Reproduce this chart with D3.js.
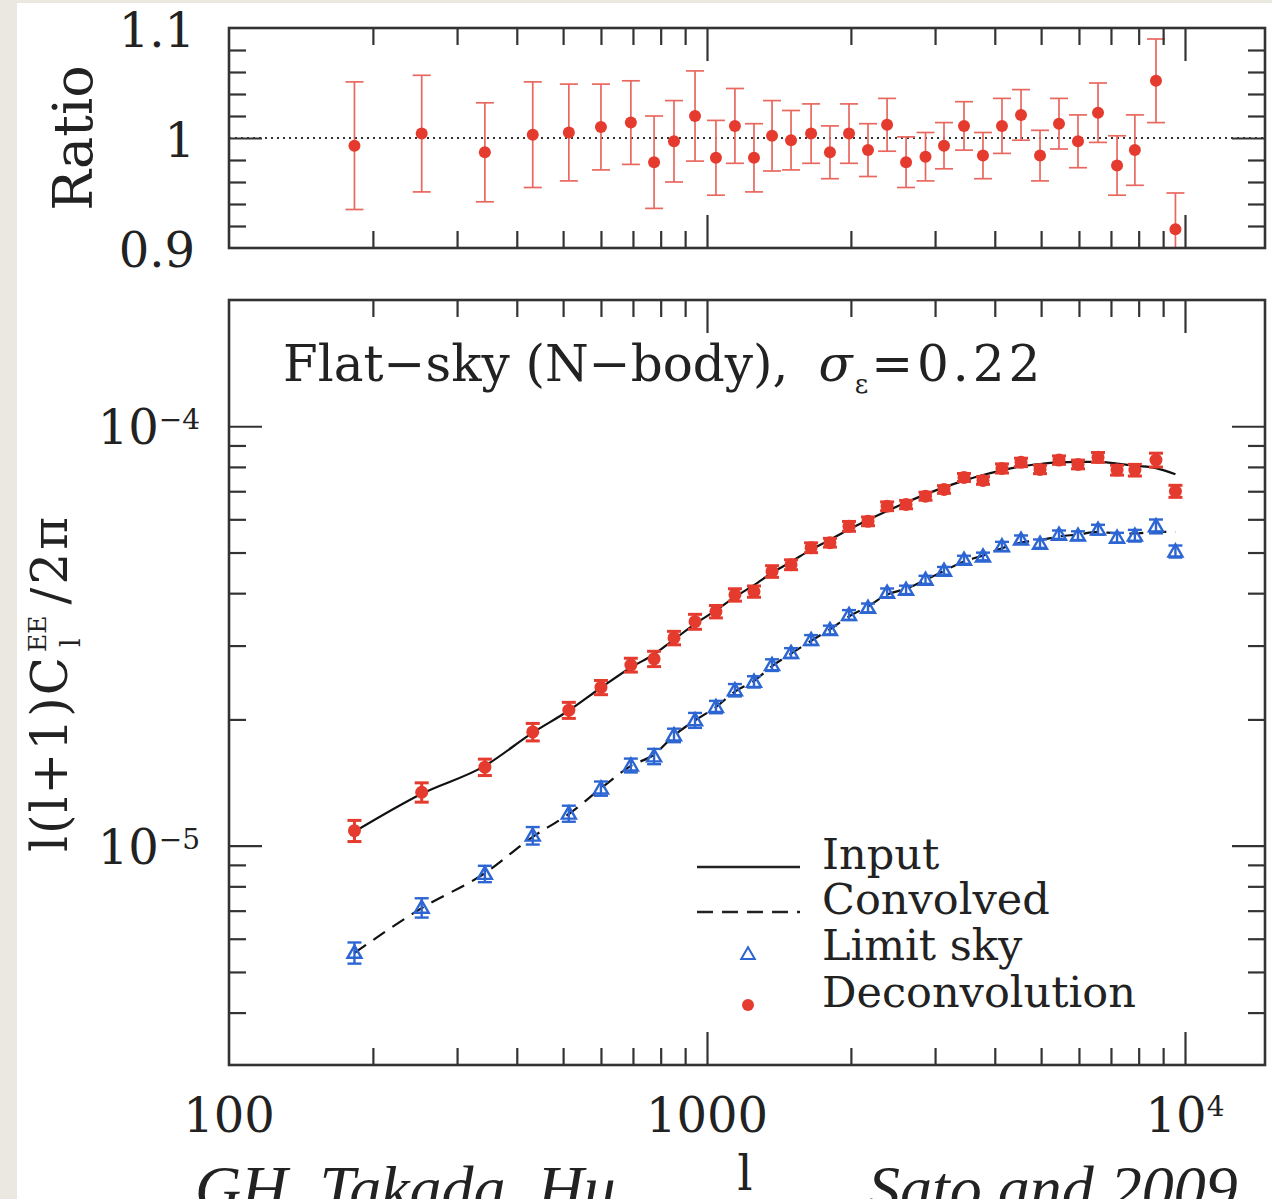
<!DOCTYPE html>
<html>
<head>
<meta charset="utf-8">
<script src="https://cdn.jsdelivr.net/npm/d3@7"></script>
<style>
  body { margin: 0; background: #fff; }
  svg { display: block; }
  text { font-family: "DejaVu Serif", serif; fill: #222; }
</style>
</head>
<body>
<svg id="chart"></svg>
<script>
// multipole bins (l)
const ell = [183, 253, 343, 432, 514, 600, 693, 775, 853, 944, 1044, 1144, 1254, 1368, 1499,
  1651, 1808, 1982, 2172, 2381, 2609, 2865, 3132, 3449, 3779, 4141, 4539, 4974, 5450, 5972,
  6577, 7208, 7855, 8695, 9550];

// deconvolved / input ratio and its error
const ratio = [0.993, 1.004, 0.987, 1.003, 1.005, 1.010, 1.014, 0.978, 0.997, 1.020, 0.982, 1.011,
  0.982, 1.002, 0.998, 1.004, 0.987, 1.004, 0.989, 1.012, 0.978, 0.983, 0.993, 1.011, 0.984, 1.011,
  1.021, 0.984, 1.013, 0.997, 1.023, 0.975, 0.989, 1.052, 0.917];
const ratioErr = [0.058, 0.053, 0.045, 0.048, 0.044, 0.039, 0.038, 0.042, 0.037, 0.041, 0.034, 0.034,
  0.031, 0.032, 0.027, 0.027, 0.024, 0.027, 0.024, 0.024, 0.023, 0.022, 0.021, 0.022, 0.021, 0.025,
  0.023, 0.023, 0.023, 0.024, 0.027, 0.027, 0.032, 0.038, 0.033];

// l(l+1)C_l^EE/2pi
const deconv = [1.086e-5, 1.341e-5, 1.539e-5, 1.867e-5, 2.104e-5, 2.384e-5, 2.696e-5, 2.79e-5,
  3.128e-5, 3.421e-5, 3.615e-5, 3.963e-5, 4.036e-5, 4.507e-5, 4.677e-5, 5.135e-5, 5.278e-5,
  5.774e-5, 5.935e-5, 6.447e-5, 6.508e-5, 6.813e-5, 7.069e-5, 7.551e-5, 7.427e-5, 7.934e-5,
  8.202e-5, 7.89e-5, 8.306e-5, 8.11e-5, 8.43e-5, 7.86e-5, 7.86e-5, 8.31e-5, 7.0e-5];
const limitSky = [5.556e-6, 7.116e-6, 8.57e-6, 1.057e-5, 1.193e-5, 1.369e-5, 1.554e-5, 1.633e-5,
  1.833e-5, 1.991e-5, 2.142e-5, 2.349e-5, 2.459e-5, 2.696e-5, 2.88e-5, 3.094e-5, 3.268e-5,
  3.549e-5, 3.69e-5, 4.008e-5, 4.074e-5, 4.305e-5, 4.524e-5, 4.806e-5, 4.894e-5, 5.172e-5,
  5.367e-5, 5.25e-5, 5.516e-5, 5.486e-5, 5.67e-5, 5.425e-5, 5.486e-5, 5.774e-5, 5.03e-5];
const inputCl = [1.08e-5, 1.33e-5, 1.55e-5, 1.86e-5, 2.10e-5, 2.38e-5, 2.66e-5, 2.86e-5, 3.10e-5,
  3.38e-5, 3.64e-5, 3.92e-5, 4.18e-5, 4.47e-5, 4.75e-5, 5.08e-5, 5.36e-5, 5.68e-5, 5.98e-5,
  6.28e-5, 6.58e-5, 6.88e-5, 7.15e-5, 7.42e-5, 7.65e-5, 7.85e-5, 8.02e-5, 8.13e-5, 8.20e-5,
  8.22e-5, 8.22e-5, 8.15e-5, 8.05e-5, 7.95e-5, 7.68e-5];
const convolvedCl = [5.55e-6, 7.1e-6, 8.6e-6, 1.05e-5, 1.19e-5, 1.37e-5, 1.55e-5, 1.65e-5, 1.83e-5,
  1.99e-5, 2.14e-5, 2.33e-5, 2.47e-5, 2.68e-5, 2.87e-5, 3.08e-5, 3.28e-5, 3.52e-5, 3.72e-5,
  3.97e-5, 4.10e-5, 4.30e-5, 4.52e-5, 4.76e-5, 4.92e-5, 5.12e-5, 5.28e-5, 5.35e-5, 5.46e-5,
  5.52e-5, 5.6e-5, 5.55e-5, 5.55e-5, 5.6e-5, 5.6e-5];

// tick labels
const xTickLabels = [{v: 100, t: "100"}, {v: 1000, t: "1000"}, {v: 1e4, t: "10", sup: "4"}];
const ratioTickLabels = [{v: 0.9, t: "0.9"}, {v: 1.0, t: "1"}, {v: 1.1, t: "1.1"}];
const clTickLabels = [{v: 1e-5, t: "10", sup: "\u22125"}, {v: 1e-4, t: "10", sup: "\u22124"}];
const legendItems = ["Input", "Convolved", "Limit sky", "Deconvolution"];

const W = 1272, H = 1199;
const red = "#e53b2f", redBar = "#e8685f", blue = "#2d66d3";

const svg = d3.select("#chart").attr("width", W).attr("height", H);

// slide background
svg.append("rect").attr("width", W).attr("height", H).attr("fill", "#fff");
svg.append("rect").attr("width", 17).attr("height", H).attr("fill", "#ebe8e2");
svg.append("rect").attr("width", W).attr("height", 3).attr("fill", "#ebe8e2");

const left = 229, right = 1265;
const top1 = 28, bot1 = 248, top2 = 300, bot2 = 1065;

const x = d3.scaleLog().domain([100, 1e4]).range([left, 1185]);
const yR = d3.scaleLinear().domain([0.9, 1.1]).range([bot1, top1]);
const yC = d3.scaleLog().domain([3e-6, 2e-4]).range([bot2, top2]);

const pts = ell.map((l, i) => ({l, r: ratio[i], e: ratioErr[i], d: deconv[i], s: limitSky[i],
  inp: inputCl[i], conv: convolvedCl[i]}));

// inward ticks on all four sides of a panel
function ticks(y, yMinor, yMajor, top, bot) {
  const xt = x.ticks().filter(v => v > 100);
  const isMaj = v => Math.abs(Math.log10(v) - Math.round(Math.log10(v))) < 1e-6;
  const g = svg.append("g").attr("class", "ticks");
  [[d3.axisBottom, `translate(0,${bot})`], [d3.axisTop, `translate(0,${top})`]].forEach(([ax, tr]) => {
    [[xt.filter(v => !isMaj(v)), 17], [xt.filter(isMaj), 33]].forEach(([vals, len]) => {
      g.append("g").attr("transform", tr)
        .call(ax(x).tickValues(vals).tickSize(-len).tickFormat(""));
    });
  });
  [[d3.axisLeft, `translate(${left},0)`], [d3.axisRight, `translate(${right},0)`]].forEach(([ax, tr]) => {
    [[yMinor, 17], [yMajor, 33]].forEach(([vals, len]) => {
      g.append("g").attr("transform", tr)
        .call(ax(y).tickValues(vals).tickSize(-len).tickFormat(""));
    });
  });
  g.selectAll(".domain").remove();
  g.selectAll(".tick line").attr("stroke", "#333").attr("stroke-width", 2.2);
  svg.append("rect").attr("x", left).attr("y", top).attr("width", right - left)
    .attr("height", bot - top).attr("fill", "none").attr("stroke", "#333").attr("stroke-width", 2.6);
}

// ---------- ratio panel ----------
svg.append("clipPath").attr("id", "clip1").append("rect")
  .attr("x", left).attr("y", top1).attr("width", right - left).attr("height", bot1 - top1);

svg.append("line").attr("x1", left).attr("x2", right).attr("y1", yR(1)).attr("y2", yR(1))
  .attr("stroke", "#333").attr("stroke-width", 1.8).attr("stroke-dasharray", "2,4");

const pr = svg.append("g").attr("clip-path", "url(#clip1)");
const eb = pr.selectAll(".eb").data(pts).enter().append("g").attr("class", "eb")
  .attr("stroke", redBar).attr("stroke-width", 1.7);
eb.append("line").attr("x1", d => x(d.l)).attr("x2", d => x(d.l))
  .attr("y1", d => yR(d.r - d.e)).attr("y2", d => yR(d.r + d.e));
eb.append("line").attr("x1", d => x(d.l) - 9).attr("x2", d => x(d.l) + 9)
  .attr("y1", d => yR(d.r - d.e)).attr("y2", d => yR(d.r - d.e));
eb.append("line").attr("x1", d => x(d.l) - 9).attr("x2", d => x(d.l) + 9)
  .attr("y1", d => yR(d.r + d.e)).attr("y2", d => yR(d.r + d.e));
pr.selectAll(".dot").data(pts).enter().append("circle")
  .attr("cx", d => x(d.l)).attr("cy", d => yR(d.r)).attr("r", 6).attr("fill", red);

ticks(yR, d3.range(0.92, 1.09, 0.02).filter(v => Math.abs(v - 1) > 1e-6), [1.0], top1, bot1);

ratioTickLabels.forEach(d => {
  svg.append("text").attr("x", 195).attr("y", yR(d.v) + 19).attr("text-anchor", "end")
    .attr("font-size", 48).text(d.t);
});
svg.append("text").attr("transform", "translate(92,138) rotate(-90)").attr("text-anchor", "middle")
  .attr("font-size", 54).text("Ratio");

// ---------- C_l panel ----------
svg.append("clipPath").attr("id", "clip2").append("rect")
  .attr("x", left).attr("y", top2).attr("width", right - left).attr("height", bot2 - top2);
const pc = svg.append("g").attr("clip-path", "url(#clip2)");

const line = key => d3.line().curve(d3.curveMonotoneX).x(d => x(d.l)).y(d => yC(d[key]));
pc.append("path").datum(pts).attr("d", line("inp")).attr("fill", "none")
  .attr("stroke", "#111").attr("stroke-width", 2.2);
pc.append("path").datum(pts).attr("d", line("conv")).attr("fill", "none")
  .attr("stroke", "#111").attr("stroke-width", 2.2).attr("stroke-dasharray", "14,9");

function errBars(key, color, cap, sw) {
  const g = pc.append("g").attr("stroke", color).attr("stroke-width", sw);
  const lo = d => yC(d[key] * (1 - d.e)), hi = d => yC(d[key] * (1 + d.e));
  g.selectAll(".v").data(pts).enter().append("line")
    .attr("x1", d => x(d.l)).attr("x2", d => x(d.l)).attr("y1", lo).attr("y2", hi);
  [lo, hi].forEach(f => {
    g.selectAll(".c").data(pts).enter().append("line")
      .attr("x1", d => x(d.l) - cap).attr("x2", d => x(d.l) + cap).attr("y1", f).attr("y2", f);
  });
}
errBars("s", blue, 7, 2.4);
pc.selectAll(".tri").data(pts).enter().append("path")
  .attr("d", d3.symbol(d3.symbolTriangle, 85))
  .attr("transform", d => `translate(${x(d.l)},${yC(d.s) + 1})`)
  .attr("fill", "none").attr("stroke", blue).attr("stroke-width", 2.4);
errBars("d", red, 7, 3);
pc.selectAll(".rdot").data(pts).enter().append("circle")
  .attr("cx", d => x(d.l)).attr("cy", d => yC(d.d)).attr("r", 6.5).attr("fill", red);

ticks(yC, yC.ticks().filter(v => v > 3.1e-6 && v < 1.9e-4 &&
  Math.abs(Math.log10(v) - Math.round(Math.log10(v))) > 1e-6), [1e-5, 1e-4], top2, bot2);

clTickLabels.forEach(d => {
  const t = svg.append("text").attr("x", 200).attr("y", yC(d.v) + 18).attr("text-anchor", "end")
    .attr("font-size", 48).text(d.t);
  t.append("tspan").attr("dy", -15).attr("font-size", 28).text(d.sup);
});
xTickLabels.forEach(d => {
  const t = svg.append("text").attr("x", x(d.v)).attr("y", 1132).attr("text-anchor", "middle")
    .attr("font-size", 48).text(d.t);
  if (d.sup) t.append("tspan").attr("dy", -16).attr("font-size", 28).text(d.sup);
});

// panel title
const title = svg.append("text").attr("x", 283).attr("y", 381).attr("font-size", 50)
  .text("Flat\u2212sky (N\u2212body),");
title.append("tspan").attr("dx", 30).attr("font-style", "italic").text("\u03c3");
title.append("tspan").attr("font-size", 26).attr("dy", 12).attr("dx", 2).text("\u03b5");
title.append("tspan").attr("dy", -12).attr("dx", 3).attr("letter-spacing", 4).text("=0.22");

// y label  l(l+1)C_l^EE / 2pi
const yl = svg.append("g").attr("transform", "translate(67,852) rotate(-90)");
const fsY = 50;
const t1 = yl.append("text").attr("x", 0).attr("y", 0).attr("font-size", fsY)
  .attr("letter-spacing", 2).text("l(l+1)C");
const w1 = t1.node().getComputedTextLength();
const tEE = yl.append("text").attr("x", w1 + 3).attr("y", -21).attr("font-size", 25).text("EE");
yl.append("text").attr("x", w1 + 8).attr("y", 13).attr("font-size", 27).text("l");
const wEE = tEE.node().getComputedTextLength();
yl.append("text").attr("x", w1 + wEE + 14).attr("y", 0).attr("font-size", fsY)
  .attr("letter-spacing", 3).text("/2\u03c0");

// x label
svg.append("text").attr("x", 745).attr("y", 1190).attr("text-anchor", "middle")
  .attr("font-size", 48).text("l");

// legend
const lg = svg.append("g");
const lx0 = 697, lx1 = 800, tx = 822, ly = [867, 912, 958, 1005];
lg.append("line").attr("x1", lx0).attr("x2", lx1).attr("y1", ly[0]).attr("y2", ly[0])
  .attr("stroke", "#222").attr("stroke-width", 2.4);
lg.append("line").attr("x1", lx0).attr("x2", lx1).attr("y1", ly[1]).attr("y2", ly[1])
  .attr("stroke", "#222").attr("stroke-width", 2.4).attr("stroke-dasharray", "16,9");
lg.append("path").attr("d", d3.symbol(d3.symbolTriangle, 80))
  .attr("transform", `translate(748,${ly[2] - 3})`)
  .attr("fill", "none").attr("stroke", blue).attr("stroke-width", 2);
lg.append("circle").attr("cx", 748).attr("cy", ly[3]).attr("r", 6).attr("fill", red);
lg.selectAll(".lt").data(legendItems).enter().append("text")
  .attr("x", tx).attr("y", (d, i) => ly[i] + 2).attr("font-size", 43).text(d => d);

// slide footer (cut off by the page edge)
const foot = svg.append("g").attr("font-style", "italic").attr("font-size", 64);
foot.append("text").attr("x", 195).attr("y", 1210).style("font-family", "'Liberation Serif', serif")
  .text("GH, Takada, Hu");
foot.append("text").attr("x", 868).attr("y", 1210).style("font-family", "'Liberation Serif', serif")
  .text("Sato and 2009");
</script>
</body>
</html>
